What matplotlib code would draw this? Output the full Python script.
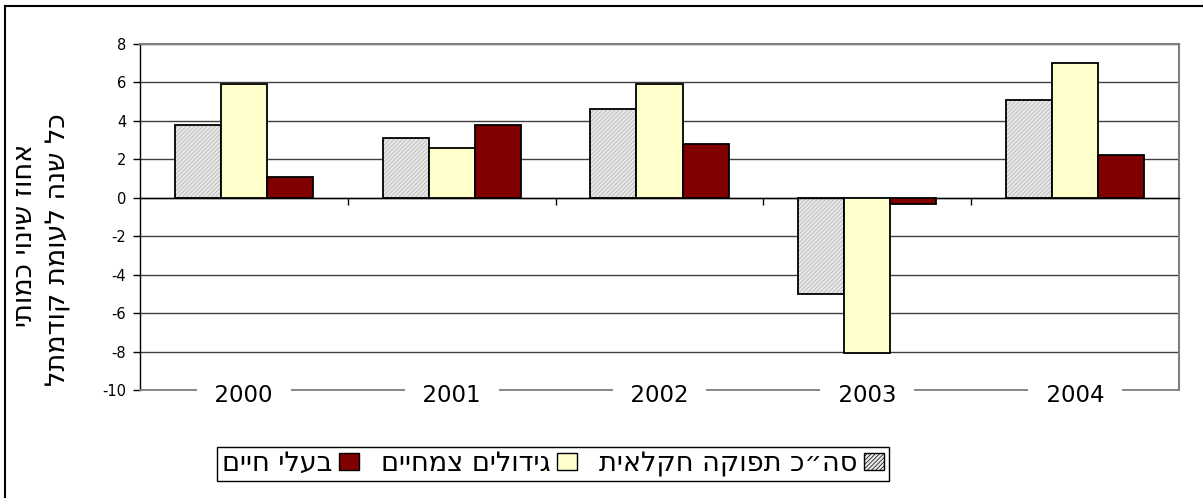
import numpy as np
import matplotlib
matplotlib.use("Agg")
import matplotlib.pyplot as plt
from matplotlib.lines import Line2D
from matplotlib.patches import Patch

plt.rcParams['font.family'] = ['DejaVu Sans']
plt.rcParams['axes.unicode_minus'] = False
plt.rcParams['hatch.linewidth'] = 0.5
plt.rcParams['hatch.color'] = '#b0b0b0'

# ---- data ----
years = ['2000', '2001', '2002', '2003', '2004']
total = [3.8, 3.1, 4.6, -5.0, 5.1]        # סה"כ תפוקה חקלאית
crops = [5.9, 2.6, 5.9, -8.1, 7.0]        # גידולים צמחיים
livestock = [1.1, 3.8, 2.8, -0.3, 2.2]    # בעלי חיים
yticks = [-10, -8, -6, -4, -2, 0, 2, 4, 6, 8]

lbl_total = 'סה״כ תפוקה חקלאית'
lbl_crops = 'גידולים צמחיים'
lbl_live = 'בעלי חיים'
ylabel1 = 'אחוז שינוי כמותי'
ylabel2 = 'כל שנה לעומת קודמתל'


def rtl(s):
    # matplotlib has no bidi support: reverse for visual RTL order
    return s[::-1]


fig = plt.figure(figsize=(12.03, 4.98), dpi=100)
ax = fig.add_axes([0.1164, 0.2169, 0.980 - 0.1164, 0.9116 - 0.2169])

x = np.arange(len(years))
w = 0.222

c_gray = '#e8e8e8'
c_yel = '#ffffcc'
c_mar = '#800000'
hatch = '////////'

ax.bar(x - w, total, w, color=c_gray, hatch=hatch, edgecolor='#b0b0b0', linewidth=0, zorder=2)
ax.bar(x - w, total, w, fill=False, edgecolor='black', linewidth=1.3, zorder=3)
ax.bar(x, crops, w, color=c_yel, edgecolor='black', linewidth=1.3, zorder=3)
ax.bar(x + w, livestock, w, color=c_mar, edgecolor='black', linewidth=1.3, zorder=3)

ax.set_xlim(-0.5, len(years) - 0.5)
ax.set_ylim(min(yticks), max(yticks))
ax.set_yticks(yticks)
ax.set_yticklabels([str(v) for v in yticks], fontsize=10.5)
ax.yaxis.grid(True, color='#404040', linewidth=1)
ax.set_axisbelow(True)
ax.tick_params(axis='y', length=5, width=1, pad=5, color='black')

# category axis crossing at zero with ticks at category boundaries
ax.spines['bottom'].set_position(('data', 0))
ax.spines['bottom'].set_color('black')
ax.spines['bottom'].set_linewidth(1)
ax.set_xticks(x[:-1] + 0.5)
ax.set_xticklabels([])
ax.tick_params(axis='x', length=5, width=1, direction='out', color='black')

ax.spines['left'].set_color('black')
ax.spines['left'].set_linewidth(1)
for s in ('top', 'right'):
    ax.spines[s].set_color('#808080')
    ax.spines[s].set_linewidth(1.5)
ax.axhline(min(yticks), color='#808080', linewidth=1.3, clip_on=False, zorder=4)

for xi, yr in zip(x, years):
    ax.text(xi, min(yticks) - 0.31, '  ' + yr + '  ', ha='center', va='center', fontsize=16.5,
            bbox=dict(boxstyle='square,pad=0.15', fc='white', ec='none'), zorder=6, clip_on=False)

# y labels (two lines)
fig.text(0.021, 1 - 235 / 498, rtl(ylabel1), rotation=90, ha='center', va='center', fontsize=19.5)
fig.text(0.049, 1 - 250 / 498, rtl(ylabel2), rotation=90, ha='center', va='center', fontsize=19.5)

# legend
handles = [Patch(facecolor=c_mar, edgecolor='black', linewidth=1),
           Patch(facecolor=c_yel, edgecolor='black', linewidth=1),
           Patch(facecolor=c_gray, edgecolor='black', linewidth=1, hatch=hatch)]
labels = [rtl(lbl_live), rtl(lbl_crops), rtl(lbl_total)]
leg = fig.legend(handles, labels, ncol=3, loc='center', bbox_to_anchor=(0.4597, 1 - 464 / 498),
                 markerfirst=False, fontsize=19.5, frameon=True, fancybox=False, shadow=False,
                 handlelength=0.75, handleheight=0.6, handletextpad=0.25, columnspacing=0.8,
                 borderpad=0.15, borderaxespad=0)
leg.get_frame().set_edgecolor('black')
leg.get_frame().set_linewidth(1)
leg.get_frame().set_alpha(1)

# outer border (top and left visible)
fig.add_artist(Line2D([5 / 1203, 1.0], [1 - 6 / 498, 1 - 6 / 498], transform=fig.transFigure,
                      color='black', linewidth=1.5))
fig.add_artist(Line2D([5 / 1203, 5 / 1203], [0, 1 - 6 / 498], transform=fig.transFigure,
                      color='black', linewidth=1.5))

fig.savefig('out.png', dpi=100)
